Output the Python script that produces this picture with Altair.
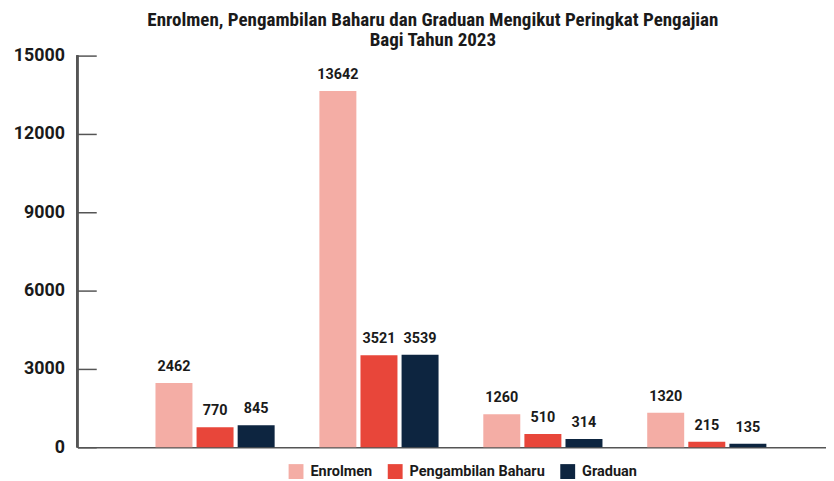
import altair as alt
import pandas as pd

levels = ["Diploma", "Sarjana Muda", "Sarjana", "PhD"]
series = ["Enrolmen", "Pengambilan Baharu", "Graduan"]
enrolmen = [2462, 13642, 1260, 1320]
pengambilan = [770, 3521, 510, 215]
graduan = [845, 3539, 314, 135]
colors = ["#F4ADA5", "#E8463A", "#0D2540"]
y_ticks = [0, 3000, 6000, 9000, 12000, 15000]

rows = []
for name, vals in zip(series, [enrolmen, pengambilan, graduan]):
    for lv, v in zip(levels, vals):
        rows.append({"level": lv, "series": name, "value": v})
df = pd.DataFrame(rows)

W, H = 755, 395
base = alt.Chart(df)

x = alt.X("level:N", sort=levels,
          scale=alt.Scale(paddingInner=0.273, paddingOuter=0.42, align=0.567),
          axis=alt.Axis(labels=False, ticks=False, title=None, domain=True,
                        domainColor="#555555", domainWidth=1.5))
xoff = alt.XOffset("series:N", sort=series, scale=alt.Scale(paddingInner=0.1))
y = alt.Y("value:Q", scale=alt.Scale(domain=[0, 15000], nice=False),
          axis=alt.Axis(values=y_ticks, format="d", title=None, domain=False, grid=False,
                        offset=-19, tickSize=19, tickColor="#555555", tickWidth=1.5,
                        labelPadding=13, labelFontSize=18, labelFontWeight="bold",
                        labelColor="#1a1a1a", labelFont="Roboto"))

bars = base.mark_bar().encode(
    x=x, xOffset=xoff, y=y,
    color=alt.Color("series:N", sort=series,
                    scale=alt.Scale(domain=series, range=colors),
                    legend=alt.Legend(title=None, orient="none", direction="horizontal",
                                      legendX=213, legendY=412,
                                      symbolType="square", symbolSize=225,
                                      symbolStrokeWidth=0, symbolOpacity=1,
                                      labelFontSize=14.6, labelFontWeight="bold",
                                      labelFont="Roboto", labelColor="#1a1a1a",
                                      columnPadding=15, labelOffset=7)),
)

labels = base.mark_text(dy=-9, fontSize=14.5, fontWeight="bold", font="Roboto",
                        color="#1a1a1a", baseline="bottom").encode(
    x=x, xOffset=xoff, y=y, text="value:Q")

yline = base.mark_rule(color="#555555", strokeWidth=1.5).encode(
    x=alt.value(0), y=alt.value(0), y2=alt.value(H))

chart = alt.layer(bars, labels, yline).properties(
    width=W, height=H,
    title=alt.TitleParams(
        ["Enrolmen, Pengambilan Baharu dan Graduan Mengikut Peringkat Pengajian",
         "Bagi Tahun 2023"],
        fontSize=19.2, fontWeight="bold", color="#1a1a1a",
        font="Roboto Condensed, Liberation Sans Narrow, DejaVu Sans Condensed",
        anchor="middle", dx=-19, dy=10, offset=6, lineHeight=21),
    autosize=alt.AutoSizeParams(type="none"),
    padding={"left": 70, "top": 46, "right": 0, "bottom": 30},
).configure_view(stroke=None)

chart.save("out.html", embed_options={"renderer": "svg", "actions": False})
